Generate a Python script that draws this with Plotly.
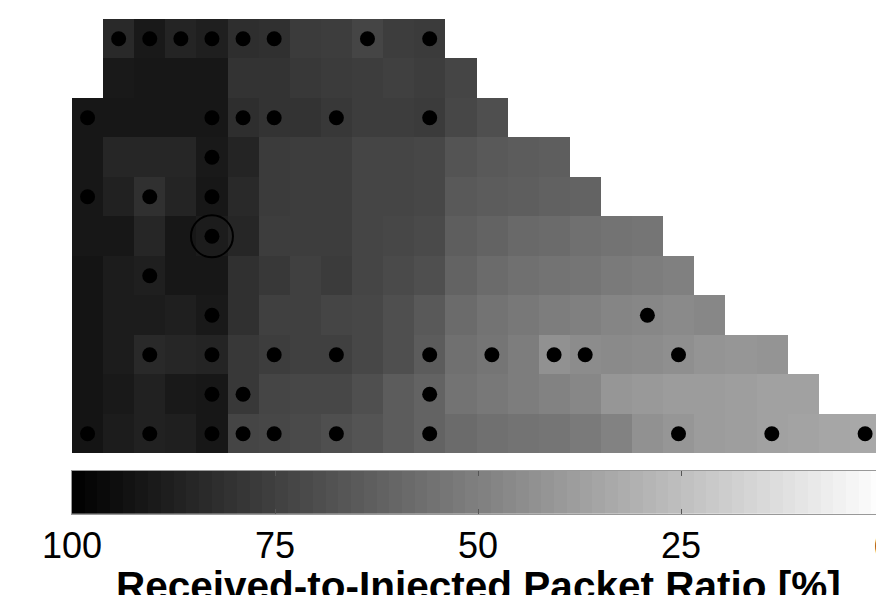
import numpy as np
import plotly.graph_objects as go

# ---- data: received-to-injected packet ratio [%] per grid cell ----
# each row starts at column row_start[i]; rows listed top to bottom
row_start = [1, 1, 0, 0, 0, 0, 0, 0, 0, 0, 0]
row0 = [84, 90, 86, 88, 82, 81, 77, 76, 73, 76, 77]
row1 = [90, 91, 91, 91, 80, 80, 78, 77, 76, 75, 76, 73]
row2 = [91, 91, 91, 91, 91, 82, 80, 80, 78, 76, 76, 77, 72, 69]
row3 = [91, 85, 85, 85, 90, 86, 77, 76, 76, 73, 73, 72, 67, 65, 64, 63]
row4 = [91, 87, 81, 86, 91, 84, 77, 76, 76, 73, 73, 72, 65, 64, 63, 62, 61]
row5 = [91, 91, 85, 91, 89, 85, 76, 76, 76, 73, 72, 71, 63, 61, 59, 58, 56, 55, 54]
row6 = [92, 89, 88, 91, 91, 81, 78, 75, 77, 73, 71, 69, 61, 58, 56, 55, 54, 52, 51, 50]
row7 = [92, 89, 89, 88, 90, 81, 75, 75, 73, 72, 69, 65, 58, 55, 53, 51, 50, 48, 47, 46, 47]
row8 = [92, 89, 84, 85, 86, 78, 76, 75, 75, 72, 69, 64, 56, 54, 51, 43, 45, 46, 45, 44, 42, 41, 42]
row9 = [92, 90, 87, 90, 91, 78, 73, 72, 72, 69, 64, 61, 55, 53, 51, 49, 47, 41, 40, 39, 39, 38, 37, 37]
row10 = [92, 89, 87, 88, 91, 73, 72, 71, 69, 67, 64, 61, 58, 56, 55, 54, 52, 49, 43, 41, 39, 38, 37, 36, 35, 34]
rows = [row0, row1, row2, row3, row4, row5, row6, row7, row8, row9, row10]
n_cols = 26

# node markers (column, row)
node_cols = [1, 2, 3, 4, 5, 6, 9, 11,
             0, 4, 5, 6, 8, 11,
             4,
             0, 2, 4,
             4,
             2,
             4, 18,
             2, 4, 6, 8, 11, 13, 15, 16, 19,
             4, 5, 11,
             0, 2, 4, 5, 6, 8, 11, 19, 22, 25]
node_rows = [0] * 8 + [2] * 6 + [3] + [4] * 3 + [5] + [6] + [7] * 2 + [8] * 9 + [9] * 3 + [10] * 10
# highlighted (circled) node
sink_col = [4]
sink_row = [5]

# colorbar
cbar_ticks = [100, 75, 50, 25]
cbar_last_label = 0
cbar_title = "Received-to-Injected Packet Ratio [%]"

# ---- build grid ----
z = []
for s, vals in zip(row_start, rows):
    line = [None] * n_cols
    for k, v in enumerate(vals):
        line[s + k] = v
    z.append(line)

gray = [[0.0, "rgb(255,255,255)"], [1.0, "rgb(0,0,0)"]]
FONT = "Liberation Sans, Arial, Helvetica, sans-serif"

fig = go.Figure()
fig.add_trace(go.Heatmap(z=z, x=list(range(n_cols)), y=list(range(len(rows))),
                         colorscale=gray, zmin=0, zmax=100, showscale=False,
                         hoverongaps=False, xaxis="x", yaxis="y"))
fig.add_trace(go.Scatter(x=node_cols, y=node_rows, mode="markers",
                         marker=dict(size=15, color="black"), showlegend=False,
                         xaxis="x", yaxis="y"))
fig.add_trace(go.Scatter(x=sink_col, y=sink_row, mode="markers",
                         marker=dict(size=42, symbol="circle-open", color="black",
                                     line=dict(width=2, color="black")),
                         showlegend=False, xaxis="x", yaxis="y"))

# colorbar drawn as a gradient strip (64-level gray map)
edges = np.linspace(0, 100, 65)
centers = (edges[:-1] + edges[1:]) / 2
fig.add_trace(go.Heatmap(z=[list(centers)], x=list(centers), y=[0.5],
                         colorscale=gray, zmin=0, zmax=100, showscale=False,
                         xaxis="x2", yaxis="y2", hoverinfo="skip"))

x2_end = 1.0


def x2_to_paper(v):
    return (100 - v) / (100 - x2_end)


fig.update_layout(
    width=876, height=595,
    margin=dict(l=72, r=0, t=19, b=0),
    paper_bgcolor="white", plot_bgcolor="white",
    font=dict(family=FONT, color="black"),
    xaxis=dict(range=[-0.5, 25.35], visible=False, domain=[0, 1], anchor="y",
               automargin=False),
    yaxis=dict(range=[10.5, -0.5], visible=False, domain=[0.2457, 1.0], anchor="x",
               automargin=False),
    xaxis2=dict(range=[100, x2_end], domain=[0, 1], anchor="y2", automargin=False,
                tickvals=cbar_ticks, ticks="inside", ticklen=5, tickcolor="#555",
                showline=True, linecolor="#999", linewidth=1, mirror="ticks",
                showgrid=False, zeroline=False,
                tickfont=dict(size=36, family=FONT, color="black")),
    yaxis2=dict(range=[0, 1], domain=[0.1406, 0.2158], anchor="x2", automargin=False,
                showticklabels=False, ticks="", showgrid=False, zeroline=False,
                showline=True, linecolor="#999", linewidth=1, mirror=True),
)
# the "0" end label lies just past the right edge of the page
fig.add_annotation(text=str(cbar_last_label), xref="paper", yref="paper",
                   x=x2_to_paper(cbar_last_label), y=0.084,
                   xanchor="center", yanchor="middle", showarrow=False,
                   font=dict(size=36, family=FONT, color="black"))
# colorbar title (runs off the bottom edge, as in the original)
fig.add_annotation(text="<b>%s</b>" % cbar_title, xref="paper", yref="paper",
                   x=x2_to_paper(50), y=0.0148,
                   xanchor="center", yanchor="middle", showarrow=False,
                   font=dict(size=40.5, family=FONT, color="black"))

fig.write_html("out.html")
